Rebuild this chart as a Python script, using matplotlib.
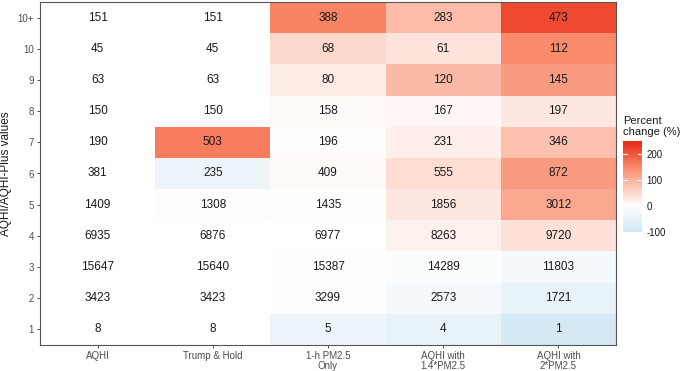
import numpy as np
import matplotlib.pyplot as plt
from matplotlib.colors import LinearSegmentedColormap, Normalize

plt.rcParams['font.family'] = ['Liberation Sans', 'DejaVu Sans']
plt.rcParams['axes.unicode_minus'] = False

methods = ["AQHI", "Trump & Hold", "1-h PM2.5\nOnly", "AQHI with\n1.4*PM2.5", "AQHI with\n2*PM2.5"]
levels = ["1", "2", "3", "4", "5", "6", "7", "8", "9", "10", "10+"]

aqhi = [8, 3423, 15647, 6935, 1409, 381, 190, 150, 63, 45, 151]
trump = [8, 3423, 15640, 6876, 1308, 235, 503, 150, 63, 45, 151]
pm_only = [5, 3299, 15387, 6977, 1435, 409, 196, 158, 80, 68, 388]
pm_14 = [4, 2573, 14289, 8263, 1856, 555, 231, 167, 120, 61, 283]
pm_2 = [1, 1721, 11803, 9720, 3012, 872, 346, 197, 145, 112, 473]

counts = np.array([aqhi, trump, pm_only, pm_14, pm_2]).T  # rows = levels
base = np.array(aqhi)[:, None]
pct = (counts - base) / base * 100

vmin, vmax = -100, 250
def pos(v):
    return (v - vmin) / (vmax - vmin)

cmap = LinearSegmentedColormap.from_list("pc", [
    (pos(-100), "#cfe6f4"),
    (pos(0), "#ffffff"),
    (pos(50), "#fdd9ce"),
    (pos(100), "#fbb39e"),
    (pos(150), "#f98a6c"),
    (pos(200), "#f2583a"),
    (pos(250), "#e8281a"),
])
norm = Normalize(vmin, vmax)

fig = plt.figure(figsize=(6.84, 3.71), dpi=100)
ax = fig.add_axes([40 / 684, 1 - 345 / 371, 576 / 684, 343 / 371])

ax.pcolormesh(np.arange(len(methods) + 1) - 0.5, np.arange(len(levels) + 1) - 0.5,
              pct, cmap=cmap, norm=norm)
for i in range(len(levels)):
    for j in range(len(methods)):
        ax.text(j, i, str(counts[i, j]), ha="center", va="center", fontsize=8.5, color="#1a1a1a")

ax.set_xlim(-0.5, len(methods) - 0.5)
ax.set_ylim(-0.5, len(levels) - 0.5)
ax.set_xticks(range(len(methods)))
ax.set_xticklabels(methods, fontsize=7, color="#4d4d4d", linespacing=1.0)
ax.set_yticks(range(len(levels)))
ax.set_yticklabels(levels, fontsize=7, color="#4d4d4d")
ax.tick_params(length=2.5, width=0.6, color="#333333", pad=2)
ax.set_ylabel("AQHI/AQHI-Plus values", fontsize=8.5, color="#1a1a1a", labelpad=4)
for s in ax.spines.values():
    s.set_color("#555555")
    s.set_linewidth(0.8)

# colour bar
cax = fig.add_axes([623 / 684, 1 - 232 / 371, 19 / 684, 91 / 371])
sm = plt.cm.ScalarMappable(norm=norm, cmap=cmap)
cb = fig.colorbar(sm, cax=cax, ticks=[-100, 0, 100, 200])
cb.outline.set_visible(False)
cax.tick_params(length=0, labelsize=7, labelcolor="#1a1a1a", pad=3)
for t in [-100, 0, 100, 200]:
    cax.plot([0, 0.2], [t, t], color="white", lw=0.8, transform=cax.get_yaxis_transform())
    cax.plot([0.8, 1], [t, t], color="white", lw=0.8, transform=cax.get_yaxis_transform())
fig.text(623 / 684, 1 - 137 / 371, "Percent\nchange (%)", fontsize=8, color="#1a1a1a",
         ha="left", va="bottom", linespacing=1.1)

fig.savefig("out.png", dpi=100)
